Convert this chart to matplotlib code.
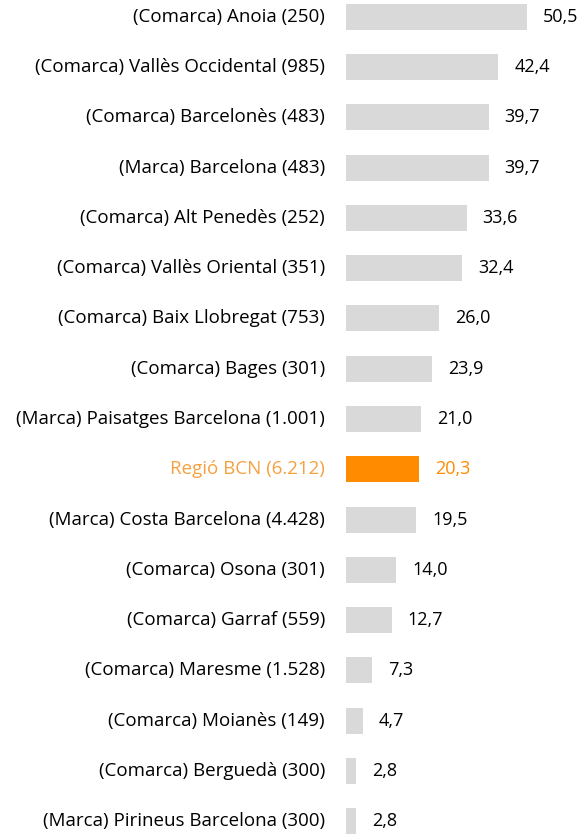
import matplotlib
matplotlib.use("Agg")
import matplotlib.pyplot as plt

categories = [
    "(Comarca) Anoia (250)",
    "(Comarca) Vallès Occidental (985)",
    "(Comarca) Barcelonès (483)",
    "(Marca) Barcelona (483)",
    "(Comarca) Alt Penedès (252)",
    "(Comarca) Vallès Oriental (351)",
    "(Comarca) Baix Llobregat (753)",
    "(Comarca) Bages (301)",
    "(Marca) Paisatges Barcelona (1.001)",
    "Regió BCN (6.212)",
    "(Marca) Costa Barcelona (4.428)",
    "(Comarca) Osona (301)",
    "(Comarca) Garraf (559)",
    "(Comarca) Maresme (1.528)",
    "(Comarca) Moianès (149)",
    "(Comarca) Berguedà (300)",
    "(Marca) Pirineus Barcelona (300)",
]
values = [50.5, 42.4, 39.7, 39.7, 33.6, 32.4, 26.0, 23.9, 21.0, 20.3,
          19.5, 14.0, 12.7, 7.3, 4.7, 2.8, 2.8]
highlight = "Regió BCN (6.212)"

W, H, DPI = 582, 834, 100
fig = plt.figure(figsize=(W / DPI, H / DPI), dpi=DPI)
left_px = 346
ax = fig.add_axes([left_px / W, 0, 1 - left_px / W, 1])

px_per_unit = 3.59
xmax = (W - left_px) / px_per_unit
spacing = 50.29
first_c = 16.7
ax.set_xlim(0, xmax)
ax.set_ylim((H - first_c) / spacing, -first_c / spacing)

grey = "#D9D9D9"
orange = "#FF8C00"
font = "Open Sans"

ys = list(range(len(categories)))
colors = [orange if c == highlight else grey for c in categories]
ax.barh(ys, values, height=26 / spacing, color=colors)

for y, c, v in zip(ys, categories, values):
    hl = c == highlight
    ax.annotate(c, xy=(0, y), xytext=(-21, 0), textcoords="offset pixels",
                ha="right", va="center", fontsize=13.5, family=font,
                color="#F7A040" if hl else "black", annotation_clip=False)
    ax.annotate(f"{v:.1f}".replace(".", ","), xy=(v, y), xytext=(16, 0),
                textcoords="offset pixels", ha="left", va="center",
                fontsize=13, family=font,
                color=orange if hl else "black", annotation_clip=False)

ax.axis("off")
fig.savefig("out.png", dpi=DPI)
